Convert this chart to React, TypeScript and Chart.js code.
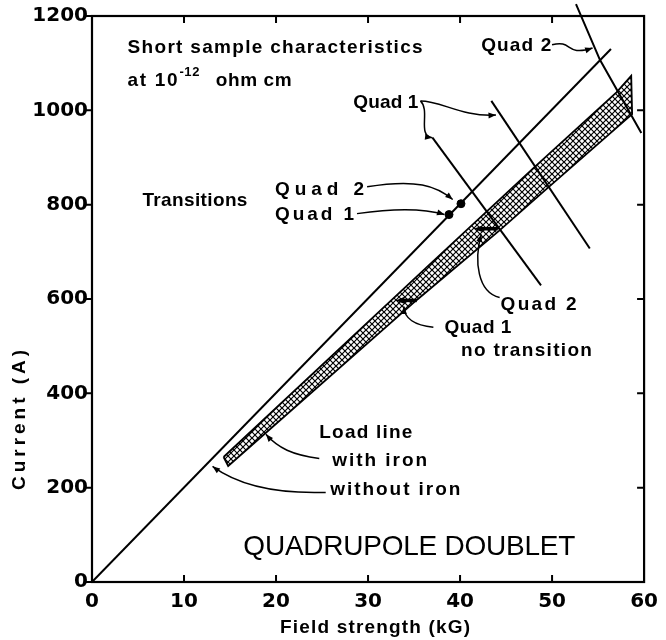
import React, { useEffect, useRef } from 'react';
import { Chart, registerables } from 'chart.js';

Chart.register(...registerables);

// ---- axes ----
const X_MIN = 0;
const X_MAX = 60;
const X_STEP = 10;
const Y_MIN = 0;
const Y_MAX = 1200;
const Y_STEP = 200;

// ---- load line without iron ----
const withoutIronX = [0, 56.4];
const withoutIronY = [0, 1130];

// ---- load line with iron (hatched band) ----
const bandUpperX = [14.3, 36.3, 48.0, 57.0, 58.6];
const bandUpperY = [265, 666, 878, 1038, 1073];
const bandLowerX = [14.8, 35.3, 44.2, 49.5, 58.7];
const bandLowerY = [246, 598, 744, 835, 992];

// ---- short sample characteristics ----
const quad1aX = [37.0, 48.8];
const quad1aY = [942, 629];
const quad1bX = [43.4, 54.1];
const quad1bY = [1020, 707];
const quad2X = [52.6, 55.2, 59.7];
const quad2Y = [1225, 1107, 952];

// ---- transitions ----
const transitionX = [38.8, 40.1];
const transitionY = [779, 802];

// ---- no-transition markers (start x, end x, y) ----
const noTransQuad2 = { x0: 44.1, x1: 41.5, y: 749 };
const noTransQuad1 = { x0: 35.3, x1: 33.0, y: 597 };

const TICK_FONT = '"DejaVu Sans", sans-serif';
const FONT = '"Liberation Sans", Arial, sans-serif';

// annotation texts (data coords: left x, middle y)
const labels = [
  { t: 'Short sample characteristics', x: 3.87, y: 1132, s: 19, w: 295, b: 'bold' },
  { t: 'at 10', x: 3.87, y: 1062, s: 19, w: 50, b: 'bold' },
  { t: '-12', x: 9.5, y: 1080, s: 13, w: 20, b: 'bold' },
  { t: 'ohm cm', x: 13.44, y: 1062, s: 19, w: 76, b: 'bold' },
  { t: 'Transitions', x: 5.48, y: 808, s: 19, w: 105, b: 'bold' },
  { t: 'Quad 2', x: 19.9, y: 832, s: 19, w: 89, b: 'bold' },
  { t: 'Quad 1', x: 19.9, y: 779, s: 19, w: 79, b: 'bold' },
  { t: 'Quad 1', x: 28.4, y: 1016, s: 19, w: 65, b: 'bold' },
  { t: 'Quad 2', x: 42.3, y: 1137, s: 19, w: 70, b: 'bold' },
  { t: 'Quad 2', x: 44.4, y: 588, s: 19, w: 76, b: 'bold' },
  { t: 'Quad 1', x: 38.3, y: 540, s: 19, w: 67, b: 'bold' },
  { t: 'no transition', x: 40.1, y: 491, s: 19, w: 131, b: 'bold' },
  { t: 'Load line', x: 24.7, y: 317, s: 19, w: 93, b: 'bold' },
  { t: 'with iron', x: 26.1, y: 256, s: 19, w: 95, b: 'bold' },
  { t: 'without iron', x: 25.9, y: 195, s: 19, w: 130, b: 'bold' },
  { t: 'QUADRUPOLE DOUBLET', x: 16.45, y: 74, s: 28, w: 332, b: 'normal' },
];

// connector curves (bezier in data coords), arrow at end
const connectors = [
  [[29.9, 838], [35.3, 855], [37.4, 840], [39.2, 811]],
  [[28.8, 781], [32.6, 792], [35.8, 794], [38.3, 779]],
  [[35.7, 1020], [36.8, 999], [35.3, 946], [37.0, 942]],
  [[35.7, 1020], [38.0, 1020], [40.1, 986], [43.9, 990]],
  [[50.0, 1139], [52.3, 1151], [51.4, 1113], [54.4, 1132]],
  [[44.3, 603], [41.9, 614], [41.5, 681], [42.3, 737]],
  [[37.1, 540], [35.1, 544], [33.9, 559], [33.9, 584]],
  [[24.7, 262], [21.8, 269], [20.2, 284], [18.9, 313]],
  [[25.4, 190], [19.1, 186], [15.4, 212], [13.1, 245]],
];

function makeHatch(): CanvasPattern | string {
  const s = 6;
  const c = document.createElement('canvas');
  c.width = s;
  c.height = s;
  const g = c.getContext('2d');
  if (!g) return '#888';
  g.strokeStyle = '#000';
  g.lineWidth = 1.2;
  g.beginPath();
  g.moveTo(-1, -1);
  g.lineTo(s + 1, s + 1);
  g.moveTo(-1, s + 1);
  g.lineTo(s + 1, -1);
  g.stroke();
  return g.createPattern(c, 'repeat') || '#888';
}

function fitText(ctx: any, text: string, x: number, y: number, size: number, width: number, weight = 'normal', center = false) {
  ctx.font = `${weight} ${size}px ${FONT}`;
  ctx.letterSpacing = '0px';
  const w = ctx.measureText(text).width;
  const n = text.length;
  const ls = n > 1 ? (width - w) / (n - 1) : 0;
  ctx.letterSpacing = `${ls}px`;
  ctx.textAlign = 'left';
  ctx.textBaseline = 'middle';
  ctx.fillText(text, center ? x - width / 2 : x, y);
  ctx.letterSpacing = '0px';
}

function arrowHead(ctx: any, fx: number, fy: number, tx: number, ty: number, size: number) {
  const a = Math.atan2(ty - fy, tx - fx);
  ctx.beginPath();
  ctx.moveTo(tx, ty);
  ctx.lineTo(tx - size * Math.cos(a - 0.38), ty - size * Math.sin(a - 0.38));
  ctx.lineTo(tx - size * Math.cos(a + 0.38), ty - size * Math.sin(a + 0.38));
  ctx.closePath();
  ctx.fill();
}

const decorPlugin = {
  id: 'decor',
  afterDatasetsDraw(chart: any) {
    const ctx = chart.ctx;
    const xs = chart.scales.x;
    const ys = chart.scales.y;
    const px = (v: number) => xs.getPixelForValue(v);
    const py = (v: number) => ys.getPixelForValue(v);
    const { left, right, top, bottom } = chart.chartArea;
    ctx.save();
    ctx.strokeStyle = '#000';
    ctx.fillStyle = '#000';
    ctx.lineCap = 'butt';

    // frame
    ctx.lineWidth = 2.2;
    ctx.strokeRect(left, top, right - left, bottom - top);

    // tick marks
    const T = 7;
    ctx.lineWidth = 2;
    ctx.beginPath();
    for (let v = Y_MIN; v <= Y_MAX; v += Y_STEP) {
      const y = py(v);
      ctx.moveTo(left - T, y);
      ctx.lineTo(left, y);
      if (v > Y_MIN && v < Y_MAX) {
        ctx.moveTo(right, y);
        ctx.lineTo(right - T, y);
      }
    }
    for (let v = X_MIN + X_STEP; v < X_MAX; v += X_STEP) {
      const x = px(v);
      ctx.moveTo(x, bottom);
      ctx.lineTo(x, bottom - T);
      ctx.moveTo(x, top);
      ctx.lineTo(x, top + T);
    }
    ctx.stroke();

    // connectors
    ctx.lineWidth = 1.5;
    for (const c of connectors) {
      const p = c.map(([a, b]) => [px(a), py(b)]);
      ctx.beginPath();
      ctx.moveTo(p[0][0], p[0][1]);
      ctx.bezierCurveTo(p[1][0], p[1][1], p[2][0], p[2][1], p[3][0], p[3][1]);
      ctx.stroke();
      arrowHead(ctx, p[2][0], p[2][1], p[3][0], p[3][1], 8);
    }

    // no-transition markers
    for (const m of [noTransQuad2, noTransQuad1]) {
      const x0 = px(m.x0);
      const x1 = px(m.x1);
      const y = py(m.y);
      ctx.lineWidth = 3.5;
      ctx.beginPath();
      ctx.moveTo(x0, y);
      ctx.lineTo(x1 + 5, y);
      ctx.stroke();
      arrowHead(ctx, x0, y, x1, y, 9);
    }

    // texts
    for (const l of labels) {
      fitText(ctx, l.t, px(l.x), py(l.y), l.s, l.w, l.b);
    }

    // axis titles
    fitText(ctx, 'Field strength (kG)', 375, 628, 19, 190, 'bold', true);
    ctx.save();
    ctx.translate(20, 420);
    ctx.rotate(-Math.PI / 2);
    fitText(ctx, 'Current (A)', 0, 0, 19, 140, 'bold', true);
    ctx.restore();

    ctx.restore();
  },
};

const pts = (xs: number[], ys: number[]) => xs.map((x, i) => ({ x, y: ys[i] }));

export default function App() {
  const ref = useRef<HTMLCanvasElement | null>(null);

  useEffect(() => {
    if (!ref.current) return;
    const bandPoly = [
      ...pts(bandUpperX, bandUpperY),
      ...pts(bandLowerX, bandLowerY).reverse(),
      { x: bandUpperX[0], y: bandUpperY[0] },
    ];
    const lineDs = (data: any[], extra: any = {}) => ({
      data,
      showLine: true,
      borderColor: '#000',
      borderWidth: 2,
      pointRadius: 0,
      fill: false,
      tension: 0,
      ...extra,
    });
    const chart = new Chart(ref.current, {
      type: 'scatter',
      data: {
        datasets: [
          lineDs(pts(withoutIronX, withoutIronY), { label: 'Load line without iron' }),
          lineDs(bandPoly, {
            label: 'Load line with iron',
            fill: 'shape',
            backgroundColor: makeHatch(),
            borderWidth: 1.8,
          }),
          lineDs(pts(quad1aX, quad1aY), { label: 'Quad 1' }),
          lineDs(pts(quad1bX, quad1bY), { label: 'Quad 1' }),
          lineDs(pts(quad2X, quad2Y), { label: 'Quad 2', clip: false }),
          {
            label: 'Transitions',
            data: pts(transitionX, transitionY),
            showLine: false,
            pointRadius: 4,
            pointBackgroundColor: '#000',
            pointBorderColor: '#000',
          },
        ],
      },
      options: {
        animation: false,
        responsive: false,
        devicePixelRatio: 1,
        layout: { padding: { left: 0, top: 15, right: 16, bottom: 0 } },
        plugins: { legend: { display: false }, tooltip: { enabled: false } },
        scales: {
          x: {
            type: 'linear',
            min: X_MIN,
            max: X_MAX,
            afterFit: (s: any) => {
              s.height = 58;
            },
            grid: { display: false, drawTicks: false },
            border: { display: false },
            ticks: {
              stepSize: X_STEP,
              padding: 8,
              color: '#000',
              maxRotation: 0,
              callback: (v: any) => String(v),
              font: { family: TICK_FONT, size: 20, weight: 'bold' },
            },
          },
          y: {
            type: 'linear',
            min: Y_MIN,
            max: Y_MAX,
            afterFit: (s: any) => {
              s.width = 92;
            },
            grid: { display: false, drawTicks: false },
            border: { display: false },
            ticks: {
              stepSize: Y_STEP,
              padding: 4,
              color: '#000',
              callback: (v: any) => String(v),
              font: { family: TICK_FONT, size: 20, weight: 'bold' },
            },
          },
        },
      } as any,
      plugins: [decorPlugin],
    });
    return () => chart.destroy();
  }, []);

  return (
    <div style={{ position: 'fixed', left: 0, top: 0, width: 666, height: 640, background: '#fff' }}>
      <canvas ref={ref} width={666} height={640} style={{ display: 'block' }} />
    </div>
  );
}
